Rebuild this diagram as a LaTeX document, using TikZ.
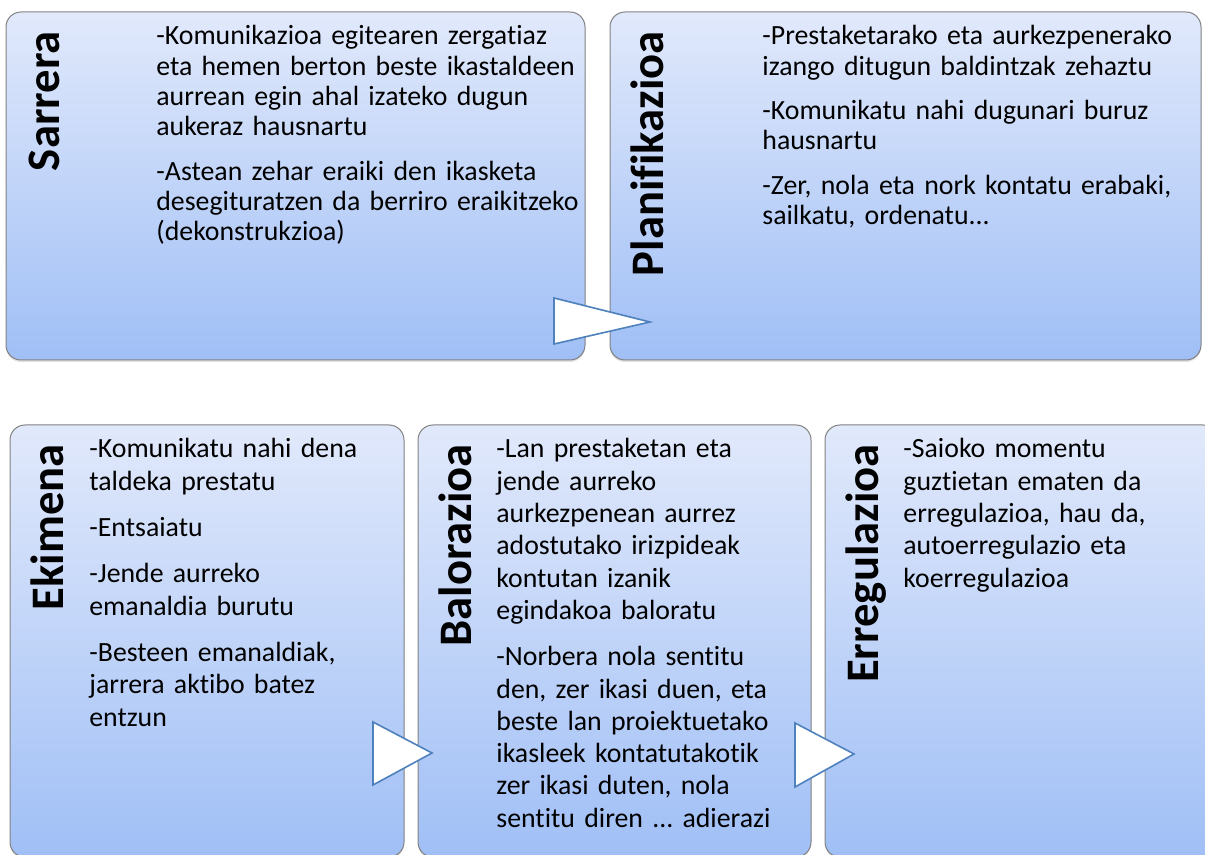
\documentclass[tikz,border=0pt]{standalone}
\usepackage{fontspec}
\setmainfont{Carlito}[Ligatures=NoCommon]
\frenchspacing
\usetikzlibrary{shadows}

\definecolor{boxtop}{RGB}{225,233,251}
\definecolor{boxbottom}{RGB}{160,191,246}
\definecolor{boxedge}{RGB}{130,130,130}
\definecolor{arrowedge}{RGB}{79,129,189}

\begin{document}
\begin{tikzpicture}[x=0.5pt,y=-0.5pt]
  \tikzset{panel/.style = {draw=boxedge,line width=0.5pt,rounded corners=7.5pt,top color=boxtop,bottom color=boxbottom,
      drop shadow={opacity=0.25,shadow xshift=0pt,shadow yshift=-1pt}}}
  \tikzset{title/.style = {rotate=90,anchor=base east,inner sep=0pt,font=\fontsize{23.3pt}{28pt}\selectfont\bfseries}}
  \tikzset{upbody/.style = {anchor=base west,inner sep=0pt,align=left,text width=230pt,font=\fontsize{13.9pt}{15.15pt}\selectfont}}
  \tikzset{lowbody/.style = {anchor=base west,inner sep=0pt,align=left,text width=160pt,font=\fontsize{13.9pt}{16.15pt}\selectfont}}
  \tikzset{pointer/.style = {draw=arrowedge,fill=white,line width=0.8pt,line join=miter}}

  \useasboundingbox (0,0) rectangle (1205,855);

  % upper row
  \draw[panel] (6,12) rectangle (585,360);
  \draw[panel] (610,12) rectangle (1201,360);
  % lower row
  \draw[panel] (10,425) rectangle (404,857);
  \draw[panel] (418,425) rectangle (811,857);
  \draw[panel] (825,425) rectangle (1218,857);

  % arrows between the steps
  \draw[pointer] (554,298) -- (650,322) -- (554,344) -- cycle;
  \draw[pointer] (373,722) -- (432,753) -- (373,785) -- cycle;
  \draw[pointer] (795,723) -- (854,754) -- (795,787) -- cycle;

  \node[title] (sarrera) at (59,31) {Sarrera};
  \node[title] (planif) at (663,31) {Planifikazioa};
  \node[title] (ekimena) at (63,444) {Ekimena};
  \node[title] (balor) at (471,444) {Balorazioa};
  \node[title] (erreg) at (878,444) {Erregulazioa};

  \node[upbody] (sarreratxt) at (156,45) {-Komunikazioa egitearen zergatiaz\\
    eta hemen berton beste ikastaldeen\\ aurrean egin ahal izateko dugun\\ aukeraz hausnartu\\[7pt]
    -Astean zehar eraiki den ikasketa\\ desegituratzen da berriro eraikitzeko\\ (dekonstrukzioa)};
  \node[upbody] (planiftxt) at (762,45) {-Prestaketarako eta aurkezpenerako\\
    izango ditugun baldintzak zehaztu\\[7pt]
    -Komunikatu nahi dugunari buruz\\ hausnartu\\[7pt]
    -Zer, nola eta nork kontatu erabaki,\\ sailkatu, ordenatu...};
  \node[lowbody] (ekimenatxt) at (89,458) {-Komunikatu nahi dena\\ taldeka prestatu\\[7pt]
    -Entsaiatu\\[7pt]
    -Jende aurreko\\ emanaldia burutu\\[7pt]
    -Besteen emanaldiak,\\ jarrera aktibo batez\\ entzun};
  \node[lowbody] (balortxt) at (496,458) {-Lan prestaketan eta\\ jende aurreko\\ aurkezpenean aurrez\\
    adostutako irizpideak\\ kontutan izanik\\ egindakoa baloratu\\[7pt]
    -Norbera nola sentitu\\ den, zer ikasi duen, eta\\ beste lan proiektuetako\\
    ikasleek kontatutakotik\\ zer ikasi duten, nola\\ sentitu diren ... adierazi};
  \node[lowbody] (erregtxt) at (903,458) {-Saioko momentu\\ guztietan ematen da\\
    erregulazioa, hau da,\\ autoerregulazio eta\\ koerregulazioa};
\end{tikzpicture}
\end{document}
